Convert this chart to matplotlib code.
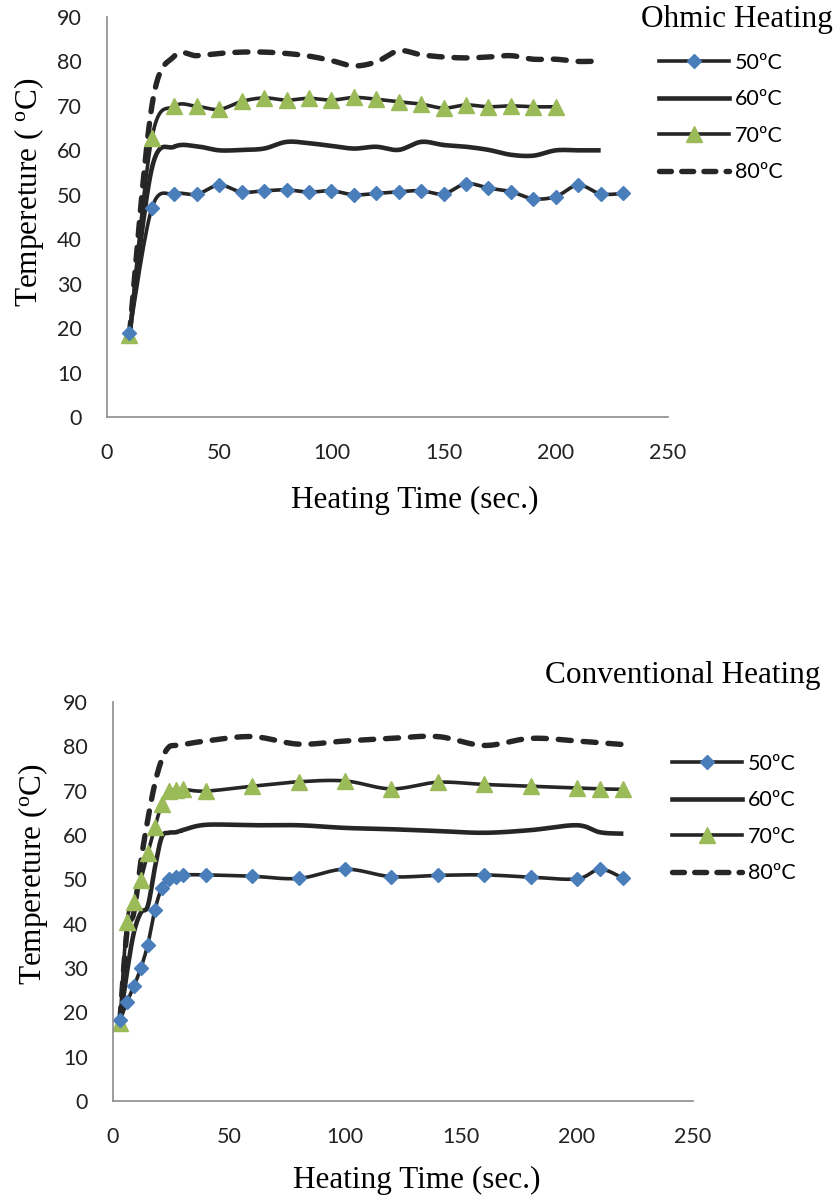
import numpy as np
import matplotlib.pyplot as plt
from matplotlib.lines import Line2D

plt.rcParams['font.family'] = ['Lato', 'DejaVu Sans']
plt.rcParams['mathtext.fontset'] = 'custom'
plt.rcParams['mathtext.rm'] = 'Liberation Serif'
plt.rcParams['mathtext.it'] = 'Liberation Serif'

# ---- Ohmic heating (top) ----
oh_t50 = [10, 20, 30, 40, 50, 60, 70, 80, 90, 100, 110, 120, 130, 140, 150, 160, 170, 180, 190, 200, 210, 220, 230]
oh_50 = [18.8, 47.0, 50.2, 50.1, 52.2, 50.6, 50.9, 51.1, 50.6, 50.9, 50.0, 50.3, 50.7, 50.9, 50.2, 52.5, 51.5, 50.7, 49.1, 49.6, 52.2, 50.2, 50.3]
oh_t60 = [10, 20, 30, 40, 50, 60, 70, 80, 90, 100, 110, 120, 130, 140, 150, 160, 170, 180, 190, 200, 210, 220]
oh_60 = [18.5, 56.0, 60.8, 60.9, 60.0, 60.1, 60.4, 61.9, 61.6, 61.0, 60.4, 60.8, 60.1, 61.9, 61.2, 60.8, 60.1, 59.0, 58.8, 60.0, 60.0, 60.0]
oh_t70 = [10, 20, 30, 40, 50, 60, 70, 80, 90, 100, 110, 120, 130, 140, 150, 160, 170, 180, 190, 200]
oh_70 = [18.5, 62.8, 69.9, 69.9, 69.2, 71.0, 71.8, 71.3, 71.7, 71.3, 71.9, 71.5, 70.9, 70.4, 69.5, 70.2, 69.8, 70.0, 69.8, 69.8]
oh_t80 = [10, 20, 30, 40, 50, 60, 70, 80, 90, 100, 110, 120, 130, 140, 150, 160, 170, 180, 190, 200, 210, 220]
oh_80 = [18.5, 70.0, 81.2, 81.3, 81.8, 82.1, 82.1, 81.8, 81.2, 80.2, 79.0, 79.9, 82.4, 81.5, 81.0, 80.8, 81.0, 81.3, 80.5, 80.5, 80.0, 80.1]

# ---- Conventional heating (bottom) ----
cv_t = [3, 6, 9, 12, 15, 18, 21, 24, 27, 30, 40, 60, 80, 100, 120, 140, 160, 180, 200, 210, 220]
cv_50 = [18.2, 22.3, 25.9, 30.0, 35.3, 43.0, 48.0, 50.0, 50.6, 51.0, 51.0, 50.7, 50.2, 52.3, 50.6, 50.9, 51.0, 50.5, 50.1, 52.3, 50.2]
cv_60 = [18.2, 29.0, 38.0, 42.5, 44.0, 52.5, 59.5, 60.5, 60.6, 61.1, 62.3, 62.2, 62.2, 61.6, 61.3, 60.9, 60.5, 61.1, 62.2, 60.6, 60.3]
cv_70 = [17.6, 40.3, 45.0, 49.9, 55.9, 61.7, 67.0, 70.0, 70.1, 70.3, 69.9, 71.0, 72.0, 72.2, 70.4, 71.9, 71.4, 71.0, 70.6, 70.4, 70.3]
cv_80 = [18.2, 38.0, 42.5, 54.0, 63.5, 71.5, 77.0, 79.8, 80.2, 80.4, 81.2, 82.2, 80.5, 81.2, 81.8, 82.2, 80.2, 81.8, 81.2, 80.8, 80.4]

labels = ['50ºC', '60ºC', '70ºC', '80ºC']
yticks = [0, 10, 20, 30, 40, 50, 60, 70, 80, 90]
xticks = [0, 50, 100, 150, 200, 250]

LINE = '#262626'
BLUE = '#4A7EBB'
GREEN = '#9BBB59'
W, H = 837, 1197
FS_TICK = 15.5
FS_SERIF = 22.5


def smooth(x, y, n=16):
    # catmull-rom curve through the points, like Excel's smoothed line
    x = np.asarray(x, float)
    y = np.asarray(y, float)
    px = np.concatenate([[x[0]], x, [x[-1]]])
    py = np.concatenate([[y[0]], y, [y[-1]]])
    t = np.linspace(0, 1, n)
    xs, ys = [], []
    for i in range(1, len(px) - 2):
        for p, out in ((px, xs), (py, ys)):
            p0, p1, p2, p3 = p[i - 1], p[i], p[i + 1], p[i + 2]
            out.extend(0.5 * (2 * p1 + (-p0 + p2) * t + (2 * p0 - 5 * p1 + 4 * p2 - p3) * t ** 2
                              + (-p0 + 3 * p1 - 3 * p2 + p3) * t ** 3))
    return xs, ys


def axes_px(l, t, r, b):
    return [l / W, 1 - b / H, (r - l) / W, (b - t) / H]


def draw(ax, series):
    (t50, y50), (t60, y60), (t70, y70), (t80, y80) = series
    ax.plot(*smooth(t60, y60), color=LINE, lw=3.3, solid_capstyle='butt')
    ax.plot(*smooth(t80, y80), color=LINE, lw=3.9, dashes=(2.4, 2.2), dash_capstyle='round')
    ax.plot(*smooth(t70, y70), color=LINE, lw=2.6)
    ax.plot(*smooth(t50, y50), color=LINE, lw=2.6)
    ax.plot(t70, y70, ls='none', marker='^', ms=11, color=GREEN, mec=GREEN)
    ax.plot(t50, y50, ls='none', marker='D', ms=7.5, color=BLUE, mec=BLUE)
    ax.set_xlim(0, 250)
    ax.set_ylim(0, 90)
    ax.set_xticks(xticks)
    ax.set_yticks(yticks)
    ax.tick_params(length=0, labelsize=FS_TICK, colors='#222222')
    ax.tick_params(axis='y', pad=18)
    ax.tick_params(axis='x', pad=19)
    for s in ['top', 'right']:
        ax.spines[s].set_visible(False)
    for s in ['left', 'bottom']:
        ax.spines[s].set_color('#8c8c8c')
        ax.spines[s].set_linewidth(1.2)


def legend_handles():
    return [
        Line2D([], [], color=LINE, lw=2.6, marker='D', ms=7.5, mfc=BLUE, mec=BLUE),
        Line2D([], [], color=LINE, lw=3.3),
        Line2D([], [], color=LINE, lw=2.6, marker='^', ms=11, mfc=GREEN, mec=GREEN),
        Line2D([], [], color=LINE, lw=3.9, dashes=(2.2, 1.9), dash_capstyle='round'),
    ]


fig = plt.figure(figsize=(W / 100, H / 100), dpi=100)

ax1 = fig.add_axes(axes_px(107, 17, 668, 417))
draw(ax1, [(oh_t50, oh_50), (oh_t60, oh_60), (oh_t70, oh_70), (oh_t80, oh_80)])

ax2 = fig.add_axes(axes_px(113, 702, 693, 1101))
draw(ax2, [(cv_t, cv_50), (cv_t, cv_60), (cv_t, cv_70), (cv_t, cv_80)])

serif = 'Liberation Serif'
fig.text(833 / W, 1 - 19 / H, 'Ohmic Heating', family=serif, fontsize=FS_SERIF, ha='right', va='center')
fig.text(821 / W, 1 - 676 / H, 'Conventional Heating', family=serif, fontsize=FS_SERIF, ha='right', va='center')
fig.text(415 / W, 1 - 500 / H, 'Heating Time (sec.)', family=serif, fontsize=FS_SERIF, ha='center', va='center')
fig.text(417 / W, 1 - 1180 / H, 'Heating Time (sec.)', family=serif, fontsize=FS_SERIF, ha='center', va='center')
fig.text(29 / W, 1 - 192 / H, 'Tempereture ( $^{\\rm o}$C)', family=serif, fontsize=FS_SERIF,
         ha='center', va='center', rotation=90)
fig.text(33 / W, 1 - 874 / H, 'Tempereture ($^{\\rm o}$C)', family=serif, fontsize=FS_SERIF,
         ha='center', va='center', rotation=90)

for x0, y0 in [(659, 53), (672, 754)]:
    fig.legend(legend_handles(), labels, loc='upper left', bbox_to_anchor=(x0 / W, 1 - y0 / H),
               frameon=False, fontsize=FS_TICK, handlelength=3.25, handletextpad=0.28,
               labelspacing=0.76, borderpad=0, borderaxespad=0, numpoints=1)

fig.savefig('out.png', dpi=100)
